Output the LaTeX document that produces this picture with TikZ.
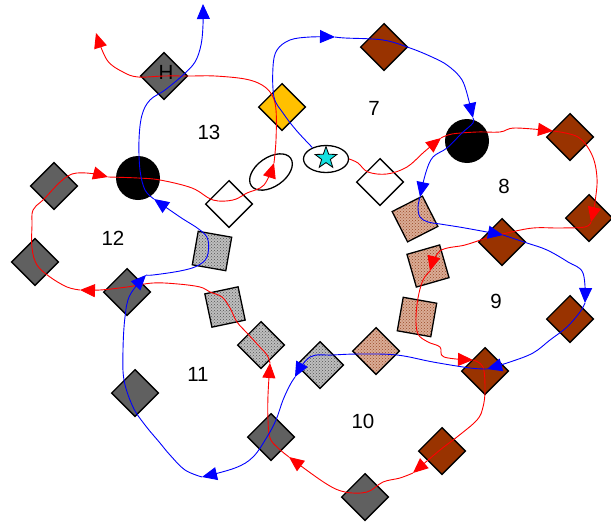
\documentclass[tikz,border=0pt]{standalone}
\usepackage{fontspec}
\setmainfont{Liberation Sans}
\usetikzlibrary{arrows.meta,shapes.geometric,patterns}
\definecolor{dgray}{RGB}{96,96,96}
\definecolor{brn}{RGB}{153,51,0}
\definecolor{orng}{RGB}{255,192,0}
\definecolor{lgbase}{RGB}{190,190,190}
\definecolor{lgdot}{RGB}{85,85,85}
\definecolor{pkbase}{RGB}{218,172,150}
\definecolor{pkdot}{RGB}{155,75,40}
\definecolor{strc}{RGB}{20,225,225}
\begin{document}
\begin{tikzpicture}[x=1pt,y=-1pt,
  box/.style={draw=black, line width=1.3pt, inner sep=0pt, minimum size=34pt},
  dia/.style={draw=black, line width=1.3pt, inner sep=0pt, minimum size=33pt, rotate=45},
  dgd/.style={dia, fill=dgray},
  brd/.style={dia, fill=brn},
  wdd/.style={dia, fill=white},
  lgfill/.style={preaction={fill=lgbase}, pattern=crosshatch dots, pattern color=lgdot},
  pkfill/.style={preaction={fill=pkbase}, pattern=crosshatch dots, pattern color=pkdot},
  bcirc/.style={circle, fill=black, minimum size=44pt, inner sep=0pt},
  lbl/.style={font=\fontsize{20.5}{24}\selectfont, inner sep=0pt},
  rl/.style={draw=red, line width=0.9pt, -{Triangle[length=15pt,width=13pt]}},
  bl/.style={draw=blue, line width=0.9pt, -{Triangle[length=15pt,width=13pt]}},
  sm/.style={smooth, tension=0.6}
]
\useasboundingbox (0,0) rectangle (611,525);
% shapes
\node[dgd] (dH) at (164,76) {};
\node[dgd] (dg1) at (54,186) {};
\node[dgd] (dg2) at (35,262) {};
\node[dgd] (dg3) at (127,292) {};
\node[dgd] (dg4) at (135,393) {};
\node[dgd] (dg5) at (271,437) {};
\node[dgd] (dg6) at (365,497) {};
\node[brd] (br1) at (384,47) {};
\node[brd] (br2) at (570,137) {};
\node[brd] (br3) at (589,218) {};
\node[brd] (br4) at (502,242) {};
\node[brd] (br5) at (570,319) {};
\node[brd] (br6) at (485,371) {};
\node[brd] (br7) at (442,451) {};
\node[dia, fill=orng] (org) at (282,107) {};
\node[wdd] (wd1) at (229,204) {};
\node[wdd] (wd2) at (380,182) {};
\node[dia, pkfill] (pd1) at (376,351) {};
\node[dia, lgfill] (ld1) at (320,365) {};
\node[dia, lgfill] (ld2) at (261,345) {};
\node[box, lgfill, rotate=-10] (ls1) at (212,251) {};
\node[box, lgfill, rotate=12] (ls2) at (225,307) {};
\node[box, pkfill, rotate=27] (ps1) at (415,219) {};
\node[box, pkfill, rotate=16] (ps2) at (428,266) {};
\node[box, pkfill, rotate=-10] (ps3) at (417,317) {};
\node[bcirc] (bc1) at (138,178) {};
\node[bcirc] (bc2) at (467,141) {};
\node[ellipse, draw=black, line width=1.3pt, minimum width=48pt, minimum height=29pt, inner sep=0pt, rotate=35] (el1) at (271,172) {};
\node[ellipse, draw=black, line width=1.3pt, fill=white, minimum width=45pt, minimum height=27pt, inner sep=0pt] (st) at (326,159) {};
\node[star, star points=5, star point ratio=2.5, draw=black, line width=0.8pt, fill=strc, minimum size=23pt, inner sep=0pt] (sta) at (326,158) {};
% labels
\node[lbl] (lH) at (166,72) {H};
\node[lbl] (l13) at (209,132) {13};
\node[lbl] (l12) at (113,238) {12};
\node[lbl] (l7) at (374,108) {7};
\node[lbl] (l8) at (504,186) {8};
\node[lbl] (l9) at (496,301) {9};
\node[lbl] (l10) at (363,421) {10};
\node[lbl] (l11) at (198,374) {11};
% arrow tip points
\coordinate (rA) at (441,138);
\coordinate (rB) at (553,131);
\coordinate (rC) at (591,222);
\coordinate (rD) at (430,271);
\coordinate (rE) at (473,360);
\coordinate (rF) at (413,473);
\coordinate (rG) at (289,457);
\coordinate (rH) at (270,363);
\coordinate (rI) at (80,290);
\coordinate (rJ) at (108,177);
\coordinate (rK) at (274,163);
\coordinate (rL) at (96,33);
\coordinate (bA) at (335,37);
\coordinate (bB) at (473,118);
\coordinate (bC) at (420,197);
\coordinate (bD) at (503,235);
\coordinate (bE) at (585,303);
\coordinate (bF) at (487,369);
\coordinate (bG) at (295,377);
\coordinate (bH) at (202,477);
\coordinate (bI) at (146,275);
\coordinate (bJ) at (154,199);
\coordinate (bK) at (203,4);
% red path
\draw[rl] plot[sm] coordinates {(st.east) (358,163) (368,172) (387,174) (407,167) (424,152) (rA)};
\draw[rl] plot[sm] coordinates {(rA) (452,134) (477,132) (500,132) (515,128) (rB)};
\draw[rl] plot[sm] coordinates {(rB) (578,137) (592,155) (597,178) (595,202) (rC)};
\draw[rl] plot[sm] coordinates {(rC) (585,227) (560,228) (533,228) (507,233) (487,238) (465,245) (440,251) (rD)};
\draw[rl] plot[sm] coordinates {(rD) (423,280) (418,298) (416,318) (418,334) (428,342) (440,347) (444,357) (rE)};
\draw[rl] plot[sm] coordinates {(rE) (483,367) (485,390) (483,407) (477,420) (457,437) (440,450) (rF)};
\draw[rl] plot[sm] coordinates {(rF) (400,478) (383,482) (367,492) (345,492) (325,483) (rG)};
\draw[rl] plot[sm] coordinates {(rG) (278,448) (270,438) (268,420) (268,395) (rH)};
\draw[rl] plot[sm] coordinates {(rH) (267,355) (258,345) (248,334) (237,322) (230,308) (222,297) (210,292) (200,287) (178,284) (153,283) (127,287) (100,290) (rI)};
\draw[rl] plot[sm] coordinates {(rI) (67,287) (50,277) (37,265) (32,248) (32,225) (33,210) (43,200) (72,174) (rJ)};
\draw[rl] plot[sm] coordinates {(rJ) (138,178) (160,180) (192,188) (213,200) (233,200) (247,193) (264,185) (rK)};
\draw[rl] plot[sm] coordinates {(rK) (276,140) (276,110) (272,95) (262,85) (245,79) (215,76) (190,76) (164,76) (138,77) (123,72) (107,60) (rL)};
% blue path
\draw[bl] plot[sm] coordinates {(st.140) (296,130) (283,113) (274,97) (273,67) (277,50) (290,40) (310,37) (bA)};
\draw[bl] plot[sm] coordinates {(bA) (345,38) (383,40) (410,48) (432,57) (447,65) (460,77) (466,90) (bB)};
\draw[bl] plot[sm] coordinates {(bB) (473,123) (462,133) (447,148) (433,157) (426,172) (bC)};
\draw[bl] plot[sm] coordinates {(bC) (418,207) (420,217) (428,222) (440,224) (465,228) (bD)};
\draw[bl] plot[sm] coordinates {(bD) (527,243) (547,250) (568,262) (583,273) (bE)};
\draw[bl] plot[sm] coordinates {(bE) (580,312) (567,327) (550,340) (533,353) (510,362) (bF)};
\draw[bl] plot[sm] coordinates {(bF) (470,368) (433,362) (397,355) (360,354) (333,355) (310,357) (bG)};
\draw[bl] plot[sm] coordinates {(bG) (290,385) (283,400) (276,420) (267,437) (253,457) (235,468) (bH)};
\draw[bl] plot[sm] coordinates {(bH) (185,470) (170,455) (160,443) (145,425) (133,407) (124,380) (123,350) (125,317) (130,295) (bI)};
\draw[bl] plot[sm] coordinates {(bI) (153,275) (180,271) (197,266) (207,257) (208,240) (200,230) (180,217) (bJ)};
\draw[bl] plot[sm] coordinates {(bJ) (145,190) (140,170) (139,140) (142,115) (150,100) (165,90) (183,75) (195,62) (201,45) (203,25) (bK)};
\end{tikzpicture}
\end{document}
